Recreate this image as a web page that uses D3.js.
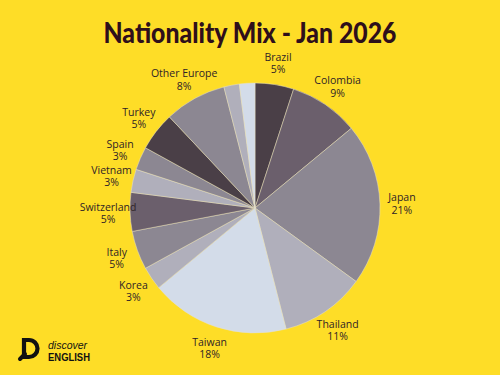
<!DOCTYPE html>
<html>
<head>
<meta charset="utf-8">
<script src="https://cdn.jsdelivr.net/npm/d3@7"></script>
<style>
  body { margin: 0; background: #fedd27; }
  svg { display: block; }
  .lbl { font-family: "Open Sans", sans-serif; font-size: 10.5px; fill: #2f2326; }
</style>
</head>
<body>
<svg id="chart" width="500" height="375"></svg>
<script>
// slices clockwise from 12 o'clock
var countries = ["Brazil", "Colombia", "Japan", "Thailand", "Taiwan", "Korea", "Italy",
                 "Switzerland", "Vietnam", "Spain", "Turkey", "Other Europe", "", ""];
var shares = [5, 9, 21, 11, 18, 3, 5, 5, 3, 3, 5, 8, 2, 2];
var sliceColors = ["#4a3f47", "#6b5f6c", "#8c8792", "#b0afbb", "#d3dce9", "#b0afbb", "#8c8792",
                   "#6b5f6c", "#b0afbb", "#8c8792", "#4a3f47", "#8c8792", "#b0afbb", "#d3dce9"];

var W = 500, H = 375;
var cx = 255, cy = 208, R = 125, labelR = 147;

var svg = d3.select("#chart");
svg.append("rect").attr("width", W).attr("height", H).attr("fill", "#fedd27");

// title
svg.append("text")
  .attr("x", 250).attr("y", 43)
  .attr("text-anchor", "middle")
  .attr("textLength", 293).attr("lengthAdjust", "spacingAndGlyphs")
  .style("font-family", "Lato, sans-serif").style("font-weight", 900)
  .style("font-size", "28px").style("fill", "#2e0f1b")
  .text("Nationality Mix - Jan 2026");

var pie = d3.pie().sort(null).value(function (d) { return d; });
var arcs = pie(shares);
var arc = d3.arc().innerRadius(0).outerRadius(R);
var labelArc = d3.arc().innerRadius(labelR).outerRadius(labelR);

var g = svg.append("g").attr("transform", "translate(" + cx + "," + cy + ")");

g.selectAll("path.slice").data(arcs).enter().append("path")
  .attr("class", "slice")
  .attr("d", arc)
  .attr("fill", function (d, i) { return sliceColors[i]; })
  .attr("stroke", "#e6e0c8").attr("stroke-width", 0.5);

var labels = g.selectAll("text.lbl").data(arcs.filter(function (d, i) { return countries[i] !== ""; }))
  .enter().append("text")
  .attr("class", "lbl")
  .attr("text-anchor", "middle")
  .attr("transform", function (d) {
    var c = labelArc.centroid(d);
    return "translate(" + c[0] + "," + (c[1] - 2) + ")";
  });
labels.append("tspan").attr("x", 0).attr("dy", 0)
  .text(function (d) { return countries[d.index]; });
labels.append("tspan").attr("x", 0).attr("dy", 12.5)
  .text(function (d) { return d.value + "%"; });

// logo, bottom left
var logo = svg.append("g").attr("transform", "translate(18,338)");
logo.append("path")
  .attr("d", "M6,2 H11 A8.5,8.5 0 0 1 11,19 H6 Z")
  .attr("fill", "none").attr("stroke", "#111").attr("stroke-width", 4.2);
logo.append("line").attr("x1", 7).attr("y1", 16).attr("x2", 2).attr("y2", 21)
  .attr("stroke", "#111").attr("stroke-width", 4).attr("stroke-linecap", "round");
logo.append("text").attr("x", 30).attr("y", 11)
  .style("font-family", "Liberation Sans, Arial, sans-serif").style("fill", "#111")
  .style("font-style", "italic").style("font-size", "10.5px")
  .text("discover");
logo.append("text").attr("x", 30).attr("y", 23)
  .attr("textLength", 42).attr("lengthAdjust", "spacingAndGlyphs")
  .style("font-family", "Liberation Sans, Arial, sans-serif").style("fill", "#111")
  .style("font-weight", 700).style("font-size", "10.5px")
  .text("ENGLISH");
</script>
</body>
</html>
